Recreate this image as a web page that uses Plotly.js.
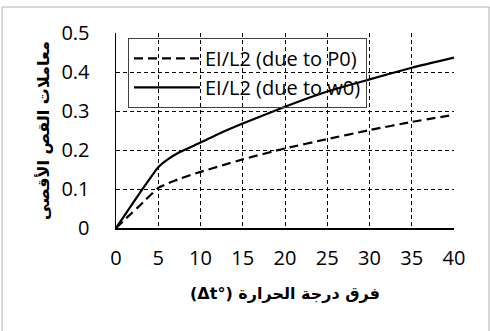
<!DOCTYPE html>
<html>
<head>
<meta charset="utf-8">
<script src="https://cdn.plot.ly/plotly-3.0.1.min.js"></script>
<style>
html,body{margin:0;padding:0;background:#fff;}
#chart{width:490px;height:331px;}
</style>
</head>
<body>
<div id="chart"></div>
<script>
const deltaT = [0, 1.5, 2.5, 3.5, 5, 6, 7.5, 10, 12.5, 15, 20, 25, 30, 35, 40];
const dueToP0 = [0, 0.031, 0.051, 0.072, 0.103, 0.113, 0.126, 0.144, 0.160, 0.176, 0.204, 0.228, 0.251, 0.272, 0.290];
const dueToW0 = [0, 0.048, 0.080, 0.111, 0.156, 0.174, 0.194, 0.219, 0.245, 0.268, 0.311, 0.350, 0.381, 0.411, 0.437];
const seriesNames = ["EI/L2 (due to P0)", "EI/L2 (due to w0)"];
const xTitle = "(Δt°) فرق درجة الحرارة";
const yTitle = "معاملات القص الأقصى";

const traces = [
  {x: deltaT, y: dueToP0, name: seriesNames[0], type: "scatter", mode: "lines",
   line: {color: "#000", width: 2.2, dash: "9px,5px", shape: "spline", smoothing: 0.5}},
  {x: deltaT, y: dueToW0, name: seriesNames[1], type: "scatter", mode: "lines",
   line: {color: "#000", width: 2.2, shape: "spline", smoothing: 0.5}}
];

const tickFont = {family: "Open Sans, Liberation Sans, sans-serif", size: 20, color: "#000"};
const titleFont = {family: "DejaVu Sans, sans-serif", size: 16, color: "#000", weight: "bold"};

const layout = {
  width: 490, height: 331,
  margin: {l: 116, r: 36, t: 33, b: 103},
  paper_bgcolor: "#fff", plot_bgcolor: "#fff",
  showlegend: true,
  legend: {x: 0.0355, y: 0.975, xanchor: "left", yanchor: "top",
    bgcolor: "rgba(0,0,0,0)", bordercolor: "#404040", borderwidth: 1,
    font: {family: "Open Sans, Liberation Sans, sans-serif", size: 20, color: "#000"},
    itemwidth: 66, tracegroupgap: 0},
  xaxis: {range: [0, 40], dtick: 5, tick0: 0, showgrid: true, gridcolor: "#000", gridwidth: 1,
    griddash: "4px,3px", showline: true, linecolor: "#000", linewidth: 1.5, zeroline: false,
    ticks: "", tickfont: tickFont, ticklabelstandoff: 11,
    title: {text: xTitle, font: titleFont, standoff: 18}},
  yaxis: {range: [0, 0.5], dtick: 0.1, tick0: 0, showgrid: true, gridcolor: "#000", gridwidth: 1,
    griddash: "4px,3px", showline: true, linecolor: "#000", linewidth: 1.5, zeroline: false,
    ticks: "", tickfont: tickFont, ticklabelstandoff: 21,
    title: {text: yTitle, font: titleFont, standoff: 8}},
  shapes: [
    {type: "rect", xref: "paper", yref: "paper", x0: -0.337, x1: 1.1036, y0: -0.6, y1: 1.1333,
     line: {color: "#b0b0b0", width: 1}, fillcolor: "rgba(0,0,0,0)", layer: "below"}
  ]
};

Plotly.newPlot("chart", traces, layout, {displayModeBar: false, staticPlot: true});
</script>
</body>
</html>
